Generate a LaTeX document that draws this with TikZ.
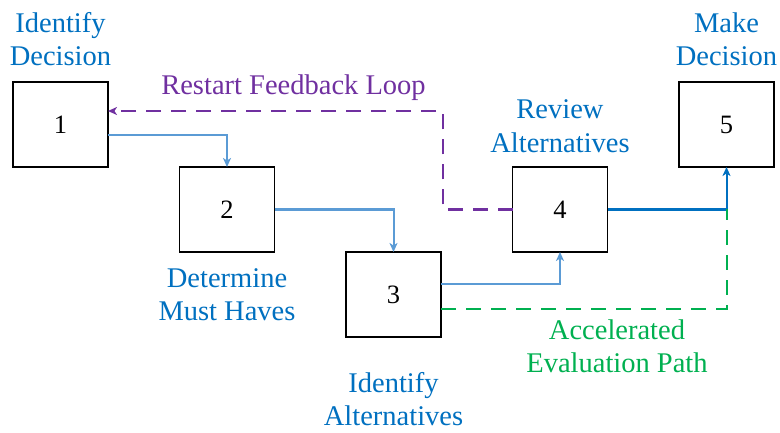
\documentclass[tikz,border=0pt]{standalone}
\usepackage{fontspec}
\setmainfont{Liberation Serif}
\usetikzlibrary{arrows.meta, positioning}
\definecolor{textblue}{HTML}{0070C0}
\definecolor{lightblue}{HTML}{5B9BD5}
\definecolor{loopviolet}{HTML}{7030A0}
\definecolor{pathgreen}{HTML}{00B050}
\tikzset{
    stepbox/.style={
        rectangle, draw=black, line width=1.5pt,
        minimum width=95pt, minimum height=85pt,
        inner sep=0pt, outer sep=0pt,
        font=\fontsize{26.5}{30}\selectfont
    },
    steplabel/.style={
        inner sep=0pt, align=center,
        text=textblue,
        font=\fontsize{28.5}{33.5}\selectfont
    },
    flow/.style={-{Stealth[length=9pt, width=8pt, inset=2.5pt]}, line width=2pt, draw=lightblue},
    loopback/.style={-{Stealth[length=9pt, width=8pt, inset=2.5pt]}, line width=2pt, draw=loopviolet,
        dash pattern=on 15pt off 10pt},
    shortcut/.style={line width=2pt, draw=pathgreen, dash pattern=on 15pt off 10pt}
}

\begin{document}
\begin{tikzpicture}[x=1pt, y=1pt, node distance=0pt and 71.5pt]

    \useasboundingbox (0,0) rectangle (780,432);

    \node[stepbox] (identify) at (60.5,307.5) {1};
    \node[stepbox, below right=of identify] (musthaves) {2};
    \node[stepbox, below right=of musthaves] (alternatives) {3};
    \node[stepbox, above right=of alternatives] (review) {4};
    \node[stepbox, above right=of review] (decision) {5};

    \node[steplabel, above=16pt of identify] (identifylbl) {Identify\\Decision};
    \node[steplabel, below=16.4pt of musthaves] (musthaveslbl) {Determine\\Must Haves};
    \node[steplabel, below=35pt of alternatives] (alternativeslbl) {Identify\\Alternatives};
    \node[steplabel, above=14.5pt of review] (reviewlbl) {Review\\Alternatives};
    \node[steplabel, above=16pt of decision] (decisionlbl) {Make\\Decision};

    \draw[flow] ([yshift=-10.5pt]identify.east) -| (musthaves.north);
    \draw[flow] (musthaves.east) -| (alternatives.north);
    \draw[flow] ([yshift=10.5pt]alternatives.east) -| (review.south);
    \draw[flow, draw=textblue] (review.east) -| (decision.south);

    \draw[shortcut] ([yshift=-14.5pt]alternatives.east) -| (decision.south |- review.east);
    \draw[loopback] (review.west) -- ++(-70,0) |- ([yshift=13.5pt]identify.east);

    \node[steplabel, text=loopviolet, anchor=base] (looplbl) at (293.5,337) {Restart Feedback Loop};
    \node[steplabel, text=pathgreen, anchor=north] (shortcutlbl) at (617,112.6) {Accelerated\\Evaluation Path};

\end{tikzpicture}
\end{document}
